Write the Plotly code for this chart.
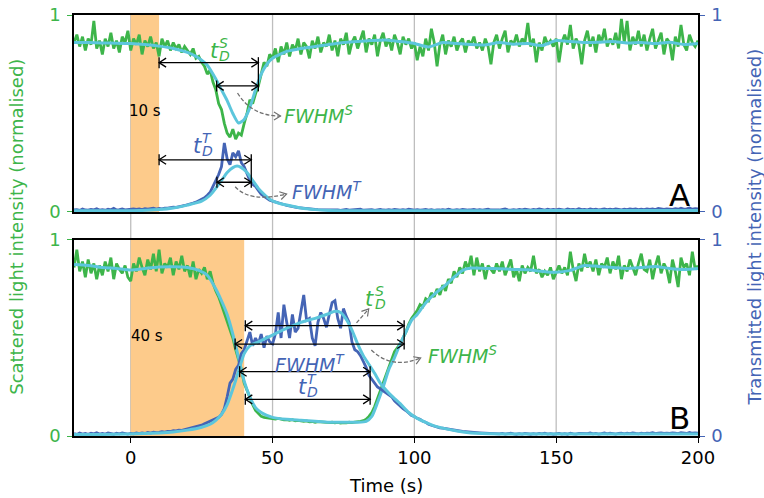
import plotly.graph_objects as go

GREEN = "#3DB54A"
BLUE = "#4464B5"
CYAN = "#5CC6DC"
ORANGE = "#FDCB8B"
GRID = "#BEBEBE"
DASHC = "#707070"
FONT = "DejaVu Sans"

# ---------------- data ----------------
TIME = list(range(-20, 201))

A_SCAT = [
    0.86, 0.90, 0.84, 0.89, 0.82, 0.88, 0.85, 0.97, 0.83, 0.87,
    0.80, 0.88, 0.84, 0.91, 0.83, 0.87, 0.81, 0.89, 0.86, 0.92,
    0.82, 0.88, 0.85, 0.90, 0.80, 0.87, 0.84, 0.89, 0.83, 0.86,
    0.79, 0.88, 0.84, 0.87, 0.82, 0.86, 0.83, 0.85, 0.81, 0.84,
    0.82, 0.80, 0.83, 0.78, 0.79, 0.76, 0.74, 0.70, 0.72, 0.66,
    0.62, 0.55, 0.52, 0.45, 0.40, 0.38, 0.42, 0.37, 0.40, 0.39,
    0.45, 0.50, 0.57, 0.55, 0.60, 0.64, 0.70, 0.76, 0.74, 0.80,
    0.78, 0.83, 0.76, 0.84, 0.80, 0.86, 0.79, 0.85, 0.82, 0.88,
    0.80, 0.86, 0.84, 0.78, 0.87, 0.83, 0.89, 0.81, 0.86, 0.84,
    0.90, 0.82, 0.87, 0.79, 0.88, 0.85, 0.91, 0.80, 0.86, 0.89,
    0.83, 0.87, 0.92, 0.81, 0.88, 0.85, 0.90, 0.79, 0.87, 0.91,
    0.84, 0.88, 0.82, 0.90, 0.86, 0.80, 0.89, 0.85, 0.88, 0.83,
    0.86, 0.77, 0.84, 0.79, 0.88, 0.82, 0.93, 0.86, 0.74, 0.85,
    0.90, 0.80, 0.87, 0.84, 0.89, 0.82, 0.86, 0.88, 0.81, 0.87,
    0.85, 0.89, 0.83, 0.86, 0.82, 0.88, 0.84, 0.75, 0.86, 0.90,
    0.83, 0.88, 0.92, 0.81, 0.87, 0.85, 0.90, 0.84, 0.88, 0.86,
    0.96, 0.84, 0.88, 0.76, 0.86, 0.82, 0.89, 0.85, 0.87, 0.84,
    0.88, 0.76, 0.86, 0.90, 0.85, 0.95, 0.83, 0.88, 0.85, 0.75,
    0.87, 0.92, 0.84, 0.89, 0.81, 0.90, 0.86, 0.93, 0.84, 0.88,
    0.85, 0.91, 0.83, 0.98, 0.86, 0.97, 0.82, 0.89, 0.85, 0.92,
    0.84, 0.90, 0.82, 0.88, 0.93, 0.83, 0.87, 0.91, 0.80, 0.88,
    0.86, 0.77, 0.89, 0.84, 0.95, 0.85, 0.82, 0.90, 0.86, 0.84, 0.87,
]

A_TRANS = [
    0.010, 0.012, 0.008, 0.015, 0.010, 0.009, 0.013, 0.011, 0.016, 0.010,
    0.012, 0.009, 0.014, 0.011, 0.018, 0.010, 0.012, 0.015, 0.011, 0.013,
    0.012, 0.016, 0.013, 0.015, 0.012, 0.017, 0.014, 0.016, 0.019, 0.015,
    0.018, 0.016, 0.020, 0.019, 0.022, 0.024, 0.023, 0.028, 0.030, 0.033,
    0.036, 0.040, 0.045, 0.050, 0.058, 0.064, 0.072, 0.085, 0.10, 0.13,
    0.16, 0.19, 0.23, 0.35, 0.27, 0.24, 0.30, 0.28, 0.31, 0.25,
    0.23, 0.19, 0.16, 0.14, 0.13, 0.11, 0.09, 0.08, 0.07, 0.06,
    0.055, 0.05, 0.045, 0.04, 0.038, 0.034, 0.030, 0.028, 0.025, 0.022,
    0.020, 0.018, 0.017, 0.015, 0.014, 0.013, 0.012, 0.012, 0.011, 0.010,
    0.011, 0.009, 0.012, 0.010, 0.008, 0.011, 0.013, 0.009, 0.010, 0.012,
    0.010, 0.014, 0.009, 0.011, 0.010, 0.012, 0.008, 0.011, 0.013, 0.010,
    0.009, 0.012, 0.010, 0.013, 0.011, 0.009, 0.012, 0.010, 0.014, 0.011,
    0.010, 0.012, 0.009, 0.011, 0.013, 0.010, 0.012, 0.008, 0.011, 0.010,
    0.012, 0.010, 0.014, 0.011, 0.009, 0.012, 0.010, 0.013, 0.011, 0.010,
    0.011, 0.013, 0.010, 0.012, 0.009, 0.011, 0.014, 0.010, 0.012, 0.011,
    0.010, 0.012, 0.015, 0.011, 0.009, 0.012, 0.010, 0.013, 0.011, 0.014,
    0.012, 0.010, 0.013, 0.011, 0.016, 0.012, 0.010, 0.014, 0.011, 0.013,
    0.011, 0.014, 0.012, 0.010, 0.015, 0.012, 0.013, 0.011, 0.016, 0.012,
    0.013, 0.011, 0.015, 0.012, 0.014, 0.011, 0.013, 0.016, 0.012, 0.014,
    0.012, 0.015, 0.013, 0.011, 0.014, 0.012, 0.016, 0.013, 0.015, 0.012,
    0.014, 0.012, 0.016, 0.013, 0.015, 0.012, 0.018, 0.014, 0.013, 0.016,
    0.015, 0.013, 0.017, 0.014, 0.019, 0.015, 0.016, 0.020, 0.014, 0.017, 0.015,
]

B_SCAT = [
    0.86, 0.95, 0.84, 0.89, 0.81, 0.90, 0.83, 0.88, 0.80, 0.87,
    0.82, 0.89, 0.84, 0.91, 0.80, 0.88, 0.85, 0.83, 0.87, 0.81,
    0.79, 0.88, 0.84, 0.91, 0.86, 0.82, 0.90, 0.85, 0.93, 0.84,
    0.95, 0.83, 0.88, 0.86, 0.91, 0.82, 0.89, 0.85, 0.92, 0.84,
    0.87, 0.81, 0.89, 0.80, 0.85, 0.83, 0.86, 0.80, 0.84, 0.78,
    0.74, 0.71, 0.67, 0.63, 0.59, 0.54, 0.50, 0.44, 0.39, 0.34,
    0.27, 0.23, 0.19, 0.16, 0.13, 0.115, 0.10, 0.095, 0.092, 0.09,
    0.088, 0.086, 0.09, 0.085, 0.082, 0.084, 0.080, 0.083, 0.078, 0.080,
    0.078, 0.075, 0.077, 0.072, 0.074, 0.070, 0.073, 0.071, 0.069, 0.070,
    0.068, 0.070, 0.067, 0.069, 0.066, 0.068, 0.067, 0.070, 0.068, 0.071,
    0.072, 0.075, 0.078, 0.085, 0.10, 0.12, 0.15, 0.19, 0.23, 0.28,
    0.32, 0.36, 0.40, 0.43, 0.45, 0.47, 0.50, 0.53, 0.57, 0.60,
    0.62, 0.64, 0.67, 0.66, 0.70, 0.69, 0.73, 0.71, 0.75, 0.72,
    0.77, 0.74, 0.80, 0.78, 0.84, 0.81, 0.86, 0.83, 0.89, 0.85,
    0.92, 0.82, 0.91, 0.84, 0.88, 0.80, 0.87, 0.85, 0.83, 0.88,
    0.84, 0.89, 0.82, 0.86, 0.90, 0.81, 0.85, 0.79, 0.87, 0.83,
    0.86, 0.84, 0.92, 0.83, 0.85, 0.81, 0.84, 0.82, 0.86, 0.80,
    0.84, 0.87, 0.83, 0.86, 0.82, 0.94, 0.85, 0.79, 0.88, 0.84,
    0.93, 0.86, 0.89, 0.84, 0.90, 0.82, 0.88, 0.86, 0.91, 0.83,
    0.89, 0.85, 0.92, 0.80, 0.87, 0.84, 0.90, 0.86, 0.82, 0.88,
    0.93, 0.85, 0.84, 0.90, 0.80, 0.87, 0.92, 0.83, 0.88, 0.85,
    0.78, 0.90, 0.84, 0.76, 0.91, 0.86, 0.88, 0.82, 0.94, 0.85, 0.87,
]

B_TRANS = [
    0.012, 0.008, 0.015, 0.010, 0.013, 0.009, 0.014, 0.011, 0.016, 0.010,
    0.013, 0.010, 0.015, 0.012, 0.009, 0.014, 0.011, 0.016, 0.012, 0.010,
    0.013, 0.011, 0.015, 0.012, 0.016, 0.013, 0.018, 0.015, 0.020, 0.017,
    0.019, 0.022, 0.020, 0.024, 0.023, 0.027, 0.026, 0.030, 0.029, 0.033,
    0.035, 0.038, 0.042, 0.046, 0.050, 0.055, 0.062, 0.068, 0.076, 0.082,
    0.085, 0.095, 0.11, 0.14, 0.20, 0.27, 0.29, 0.34, 0.36, 0.42,
    0.44, 0.48, 0.53, 0.46, 0.50, 0.47, 0.52, 0.45, 0.51, 0.48,
    0.47, 0.52, 0.63, 0.50, 0.67, 0.58, 0.50, 0.62, 0.53, 0.55,
    0.64, 0.72, 0.59, 0.60, 0.50, 0.46, 0.58, 0.63, 0.60, 0.555,
    0.62, 0.68, 0.69, 0.60, 0.55, 0.65, 0.61, 0.58, 0.48, 0.44,
    0.43, 0.41, 0.38, 0.35, 0.31, 0.29, 0.27, 0.25, 0.24, 0.23,
    0.22, 0.21, 0.20, 0.18, 0.165, 0.155, 0.14, 0.13, 0.115, 0.105,
    0.10, 0.09, 0.085, 0.075, 0.07, 0.06, 0.055, 0.05, 0.045, 0.042,
    0.04, 0.037, 0.035, 0.032, 0.03, 0.027, 0.025, 0.023, 0.022, 0.020,
    0.019, 0.018, 0.017, 0.016, 0.015, 0.015, 0.014, 0.013, 0.014, 0.012,
    0.011, 0.013, 0.010, 0.012, 0.014, 0.011, 0.009, 0.012, 0.010, 0.013,
    0.011, 0.009, 0.012, 0.010, 0.013, 0.011, 0.014, 0.010, 0.012, 0.009,
    0.011, 0.013, 0.010, 0.012, 0.009, 0.014, 0.011, 0.010, 0.013, 0.012,
    0.010, 0.012, 0.015, 0.011, 0.013, 0.010, 0.012, 0.016, 0.011, 0.014,
    0.012, 0.010, 0.013, 0.015, 0.011, 0.014, 0.012, 0.016, 0.013, 0.011,
    0.014, 0.012, 0.015, 0.013, 0.017, 0.012, 0.014, 0.016, 0.013, 0.015,
    0.013, 0.016, 0.014, 0.012, 0.017, 0.015, 0.013, 0.018, 0.014, 0.016, 0.015,
]

A_SCAT_FIT_T = [-20, -15, -10, -5, 0, 5, 10, 15, 20, 23, 25, 27, 30, 32, 34, 36, 38, 40,
                42, 44, 46, 48, 50, 55, 60, 65, 70, 75, 80, 85, 90, 95, 100, 105, 110,
                115, 120, 125, 130, 135, 140, 145, 150, 155, 160, 165, 170, 175, 180,
                185, 190, 195, 200]
A_SCAT_FIT = [0.86, 0.86, 0.858, 0.857, 0.855, 0.85, 0.842, 0.83, 0.81, 0.79, 0.77, 0.745,
              0.675, 0.62, 0.565, 0.50, 0.452, 0.47, 0.53, 0.62, 0.70, 0.75, 0.78, 0.815,
              0.83, 0.84, 0.85, 0.86, 0.865, 0.87, 0.873, 0.865, 0.855, 0.838, 0.86, 0.855,
              0.85, 0.848, 0.86, 0.852, 0.855, 0.845, 0.87, 0.865, 0.86, 0.862, 0.865,
              0.858, 0.86, 0.855, 0.862, 0.85, 0.855]

A_TRANS_FIT_T = [-20, -10, 0, 10, 15, 20, 25, 28, 30, 32, 34, 36, 37.5, 39, 41, 43, 45,
                 47, 49, 52, 55, 60, 65, 70, 80, 100, 150, 200]
A_TRANS_FIT = [0.006, 0.006, 0.006, 0.012, 0.02, 0.035, 0.055, 0.085, 0.12, 0.16, 0.20,
               0.225, 0.233, 0.225, 0.20, 0.16, 0.12, 0.09, 0.065, 0.045, 0.035, 0.02,
               0.012, 0.008, 0.006, 0.006, 0.007, 0.008]

B_SCAT_FIT_T = [-20, -15, -10, -5, 0, 5, 10, 15, 20, 24, 27, 30, 32, 34, 36, 38, 40, 42,
                44, 46, 48, 50, 55, 60, 65, 70, 75, 80, 83, 85, 87, 89, 91, 93, 95, 97,
                99, 101, 103, 105, 108, 111, 114, 117, 120, 125, 130, 135, 140, 145, 150,
                155, 160, 165, 170, 175, 180, 185, 190, 195, 200]
B_SCAT_FIT = [0.875, 0.87, 0.86, 0.855, 0.847, 0.855, 0.862, 0.864, 0.86, 0.845, 0.82,
              0.75, 0.69, 0.62, 0.52, 0.40, 0.28, 0.20, 0.145, 0.12, 0.105, 0.095, 0.085,
              0.08, 0.075, 0.07, 0.07, 0.07, 0.075, 0.10, 0.17, 0.25, 0.34, 0.40, 0.47,
              0.53, 0.59, 0.62, 0.66, 0.695, 0.735, 0.77, 0.81, 0.845, 0.857, 0.855,
              0.853, 0.85, 0.848, 0.84, 0.835, 0.845, 0.87, 0.865, 0.86, 0.855, 0.86,
              0.865, 0.855, 0.85, 0.855]

B_TRANS_FIT_T = [-20, -10, 0, 10, 15, 20, 25, 28, 30, 32, 34, 36, 38, 40, 42, 45, 50, 55,
                 60, 65, 70, 72, 74, 76, 78, 80, 82, 84, 86, 88, 90, 92, 95, 98, 101, 104,
                 107, 110, 115, 120, 130, 150, 200]
B_TRANS_FIT = [0.008, 0.008, 0.01, 0.015, 0.02, 0.03, 0.045, 0.06, 0.08, 0.11, 0.16, 0.24,
               0.33, 0.42, 0.46, 0.48, 0.515, 0.55, 0.58, 0.60, 0.625, 0.636, 0.63, 0.595,
               0.54, 0.47, 0.41, 0.365, 0.32, 0.27, 0.235, 0.205, 0.165, 0.12, 0.09, 0.07,
               0.052, 0.04, 0.025, 0.015, 0.01, 0.01, 0.01]

X_TICKS = [0, 50, 100, 150, 200]
Y_TICKS = [0, 1]
GRID_X = [0, 50, 100, 150]
ADD_SPAN = {"A": 10, "B": 40}

# ---------------- geometry helpers (pixel sizes -> data units) ----------------
W, H = 764, 498
ML, MR, MT, MB = 74, 66, 15, 62
XR = (-20, 200)
DOM_B = (0, 0.4656)
DOM_A = (0.5321, 1)
PW = W - ML - MR
PH = H - MT - MB
PX_PER_X = PW / (XR[1] - XR[0])
PX_PER_Y = {"A": PH * (DOM_A[1] - DOM_A[0]), "B": PH * (DOM_B[1] - DOM_B[0])}

fig = go.Figure()


def add_series(x, y, xa, ya, color, width, smooth=False):
    line = dict(color=color, width=width)
    if smooth:
        line.update(shape="spline", smoothing=0.6)
    fig.add_trace(go.Scatter(x=x, y=y, xaxis=xa, yaxis=ya, mode="lines",
                             line=line, showlegend=False, hoverinfo="skip"))


# panel A (top): x2 / y3 (left), y4 (right)
add_series(TIME, A_SCAT, "x2", "y3", GREEN, 2.8)
add_series(A_SCAT_FIT_T, A_SCAT_FIT, "x2", "y3", CYAN, 3, True)
add_series(TIME, A_TRANS, "x2", "y4", BLUE, 2.8)
add_series(A_TRANS_FIT_T, A_TRANS_FIT, "x2", "y4", CYAN, 3, True)
# panel B (bottom): x / y (left), y2 (right)
add_series(TIME, B_SCAT, "x", "y", GREEN, 2.8)
add_series(B_SCAT_FIT_T, B_SCAT_FIT, "x", "y", CYAN, 3, True)
add_series(TIME, B_TRANS, "x", "y2", BLUE, 2.8)
add_series(B_TRANS_FIT_T, B_TRANS_FIT, "x", "y2", CYAN, 3, True)

shapes = []
annotations = []

# orange spans
shapes.append(dict(type="rect", xref="x2", yref="y3", x0=0, x1=ADD_SPAN["A"], y0=0, y1=1,
                   fillcolor=ORANGE, line=dict(width=0), layer="below"))
shapes.append(dict(type="rect", xref="x", yref="y", x0=0, x1=ADD_SPAN["B"], y0=0, y1=1,
                   fillcolor=ORANGE, line=dict(width=0), layer="below"))
# vertical grid spanning both panels
for gx in GRID_X:
    shapes.append(dict(type="line", xref="x", yref="paper", x0=gx, x1=gx, y0=0, y1=1,
                       line=dict(color=GRID, width=1.3), layer="below"))


def chevron(hx, hy, ux, uy, xr, yr, panel, color, L=7.0, Wd=4.5, width=1.3):
    """open arrow head at (hx,hy) pointing along pixel direction (ux,uy) (y up)."""
    n = (ux * ux + uy * uy) ** 0.5
    ux, uy = ux / n, uy / n
    px, py = -uy, ux
    sy = PX_PER_Y[panel]
    pts = []
    for s in (1, -1):
        dxp = -ux * L + s * px * Wd
        dyp = -uy * L + s * py * Wd
        pts.append((hx + dxp / PX_PER_X, hy + dyp / sy))
    path = "M %.4f,%.5f L %.4f,%.5f L %.4f,%.5f" % (pts[0][0], pts[0][1], hx, hy,
                                                    pts[1][0], pts[1][1])
    shapes.append(dict(type="path", xref=xr, yref=yr, path=path,
                       line=dict(color=color, width=width)))


def darrow(x1, x2, y, xr, yr, panel):
    bh = 5.5 / PX_PER_Y[panel]
    shapes.append(dict(type="line", xref=xr, yref=yr, x0=x1, x1=x2, y0=y, y1=y,
                       line=dict(color="black", width=1.3)))
    chevron(x1, y, -1, 0, xr, yr, panel, "black")
    chevron(x2, y, 1, 0, xr, yr, panel, "black")
    shapes.append(dict(type="line", xref=xr, yref=yr, x0=x1, x1=x1, y0=y - bh,
                       y1=y + bh, line=dict(color="black", width=1.3)))


def vbar(x, y_lo, y_hi, xr, yr, panel):
    bh = 5.5 / PX_PER_Y[panel]
    shapes.append(dict(type="line", xref=xr, yref=yr, x0=x, x1=x, y0=y_lo - bh,
                       y1=y_hi + bh, line=dict(color="black", width=1.3)))


def text(x, y, xr, yr, s, size, color, xanchor="center", xshift=0, yshift=0):
    annotations.append(dict(x=x, y=y, xref=xr, yref=yr, text=s, showarrow=False,
                            font=dict(family=FONT, size=size, color=color),
                            xanchor=xanchor, yanchor="middle", xshift=xshift, yshift=yshift))


def t_label(x, y, xr, yr, sup, color):
    text(x, y, xr, yr, "<i>t</i>", 21, color)
    text(x, y, xr, yr, "<i>%s</i>" % sup, 14, color, xanchor="left", xshift=3, yshift=8)
    text(x, y, xr, yr, "<i>D</i>", 14, color, xanchor="left", xshift=3, yshift=-5)


def dashed(path, xr, yr, panel, hx, hy, ux, uy):
    shapes.append(dict(type="path", xref=xr, yref=yr, path=path,
                       line=dict(color=DASHC, width=1.3, dash="4px,2px")))
    chevron(hx, hy, ux, uy, xr, yr, panel, DASHC, L=6.5, Wd=4.0, width=1.2)


# ---- panel A annotations ----
darrow(10, 45, 0.758, "x2", "y3", "A")
darrow(30.3, 45, 0.64, "x2", "y3", "A")
vbar(45, 0.64, 0.758, "x2", "y3", "A")
darrow(10, 42.5, 0.265, "x2", "y4", "A")
darrow(30.4, 42.5, 0.151, "x2", "y4", "A")
vbar(42.5, 0.151, 0.265, "x2", "y4", "A")

t_label(29.5, 0.818, "x2", "y3", "S", GREEN)
t_label(23.5, 0.336, "x2", "y4", "T", BLUE)
text(53.5, 0.49, "x2", "y3", "<i>FWHM<sup>S</sup></i>", 19, GREEN, xanchor="left")
text(56, 0.105, "x2", "y4", "<i>FWHM<sup>T</sup></i>", 19, BLUE, xanchor="left")
dashed("M 37.65,0.604 Q 42.6,0.487 52.8,0.487", "x2", "y3", "A", 52.8, 0.487, 1, 0)
dashed("M 36.84,0.128 Q 41.88,0.046 54.94,0.091", "x2", "y4", "A", 54.94, 0.091, 4, 1)
text(5.2, 0.513, "x2", "y3", "10 s", 15, "black")
text(193.6, 0.086, "x2", "y3", "A", 31, "black")

# ---- panel B annotations ----
darrow(40.4, 96.4, 0.563, "x", "y", "B")
darrow(36.8, 96.4, 0.469, "x", "y", "B")
vbar(96.4, 0.469, 0.563, "x", "y", "B")
darrow(38.4, 84.4, 0.328, "x", "y2", "B")
darrow(40.4, 84.4, 0.187, "x", "y2", "B")
vbar(84.4, 0.187, 0.328, "x", "y2", "B")

t_label(84.35, 0.698, "x", "y", "S", GREEN)
t_label(60.4, 0.2515, "x", "y2", "T", BLUE)
text(50.0, 0.365, "x", "y2", "<i>FWHM<sup>T</sup></i>", 19, BLUE, xanchor="left")
text(104.2, 0.413, "x", "y", "<i>FWHM<sup>S</sup></i>", 19, GREEN, xanchor="left")
dashed("M 79.6,0.577 L 83.9,0.648", "x", "y", "B", 83.9, 0.648, 12, 14)
dashed("M 84.83,0.439 Q 91.99,0.337 102.22,0.398", "x", "y", "B", 102.22, 0.398, 29, 12)
text(5.9, 0.51, "x", "y", "40 s", 15, "black")
text(193.6, 0.092, "x", "y", "B", 31, "black")

# axis titles
annotations.append(dict(x=-0.0913, y=0.497, xref="paper", yref="paper", showarrow=False,
                        text="Scattered light intensity (normalised)", textangle=-90,
                        font=dict(family=FONT, size=18, color=GREEN),
                        xanchor="center", yanchor="middle"))
annotations.append(dict(x=1.091, y=0.497, xref="paper", yref="paper", showarrow=False,
                        text="Transmitted light intensity (normalised)", textangle=-90,
                        font=dict(family=FONT, size=18, color=BLUE),
                        xanchor="center", yanchor="middle"))
annotations.append(dict(x=0.5, y=-0.1164, xref="paper", yref="paper", showarrow=False,
                        text="Time (s)", font=dict(family=FONT, size=18, color="black"),
                        xanchor="center", yanchor="middle"))

common_x = dict(range=list(XR), showline=True, linecolor="black", linewidth=1.5,
                mirror=True, showgrid=False, zeroline=False, automargin=False)


def yax(color, **kw):
    d = dict(range=[0, 1], tickvals=Y_TICKS, ticks="outside", ticklen=5, tickwidth=1.2,
             tickcolor=color, tickfont=dict(family=FONT, size=18, color=color),
             showline=True, linecolor="black", linewidth=1.5, showgrid=False,
             zeroline=False, fixedrange=True, automargin=False, ticklabelstandoff=3)
    d.update(kw)
    return d


fig.update_layout(
    width=W, height=H,
    margin=dict(l=ML, r=MR, t=MT, b=MB, autoexpand=False),
    paper_bgcolor="white", plot_bgcolor="rgba(0,0,0,0)",
    font=dict(family=FONT, size=18, color="black"),
    showlegend=False,
    xaxis=dict(domain=[0, 1], anchor="y", tickvals=X_TICKS, ticks="outside", ticklen=5,
               tickwidth=1.2, tickcolor="black", ticklabelstandoff=0,
               tickfont=dict(family=FONT, size=18, color="black"), **common_x),
    xaxis2=dict(domain=[0, 1], anchor="y3", matches="x", showticklabels=False, ticks="",
                **common_x),
    yaxis=yax(GREEN, domain=list(DOM_B), anchor="x"),
    yaxis2=yax(BLUE, overlaying="y", side="right", anchor="x"),
    yaxis3=yax(GREEN, domain=list(DOM_A), anchor="x2"),
    yaxis4=yax(BLUE, overlaying="y3", side="right", anchor="x2"),
    shapes=shapes,
    annotations=annotations,
)

fig.write_html("out.html")
